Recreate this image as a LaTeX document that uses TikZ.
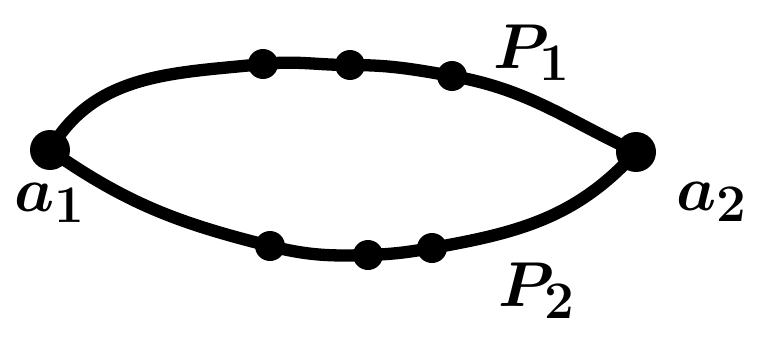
\documentclass[tikz,border=0pt]{standalone}
\usepackage{amsmath}
\usetikzlibrary{positioning}

\begin{document}
\begin{tikzpicture}[x=0.02cm,y=0.02cm,
    wire/.style={line width=7pt,line cap=round},
    bead/.style={circle,fill=black,inner sep=0pt,minimum size=0.6cm},
    endpt/.style={circle,fill=black,inner sep=0pt,minimum size=0.8cm},
    lbl/.style={font=\Huge\boldmath,scale=1.45}]
  \useasboundingbox (0,0) rectangle (761,336);
  % End points
  \node[endpt] (a1) at (50,186) {};
  \node[endpt] (a2) at (636,184) {};
  % Beads on the upper path
  \node[bead] (u1) at (263,272) {};
  \node[bead] (u2) at (350,271) {};
  \node[bead] (u3) at (452,260) {};
  % Beads on the lower path
  \node[bead] (w1) at (270,90) {};
  \node[bead] (w2) at (368,81) {};
  \node[bead] (w3) at (432,88) {};
  % Upper path
  \draw[wire] (a1.center) to[out=60,in=186] (u1.center) to[out=6,in=180] (u2.center)
    to[out=0,in=170] (u3.center) to[out=-10,in=155] (a2.center);
  % Lower path
  \draw[wire] (a1.center) to[out=-35,in=166] (w1.center) to[out=-14,in=182] (w2.center)
    to[out=2,in=190] (w3.center) to[out=10,in=228] (a2.center);
  % Labels
  \node[lbl] (p1) at (532,283) {$P_1$};
  \node[lbl] (l1) at (50,133) {$a_1$};
  \node[lbl] (l2) at (712,134) {$a_2$};
  \node[lbl] (p2) at (537,45) {$P_2$};
\end{tikzpicture}
\end{document}
